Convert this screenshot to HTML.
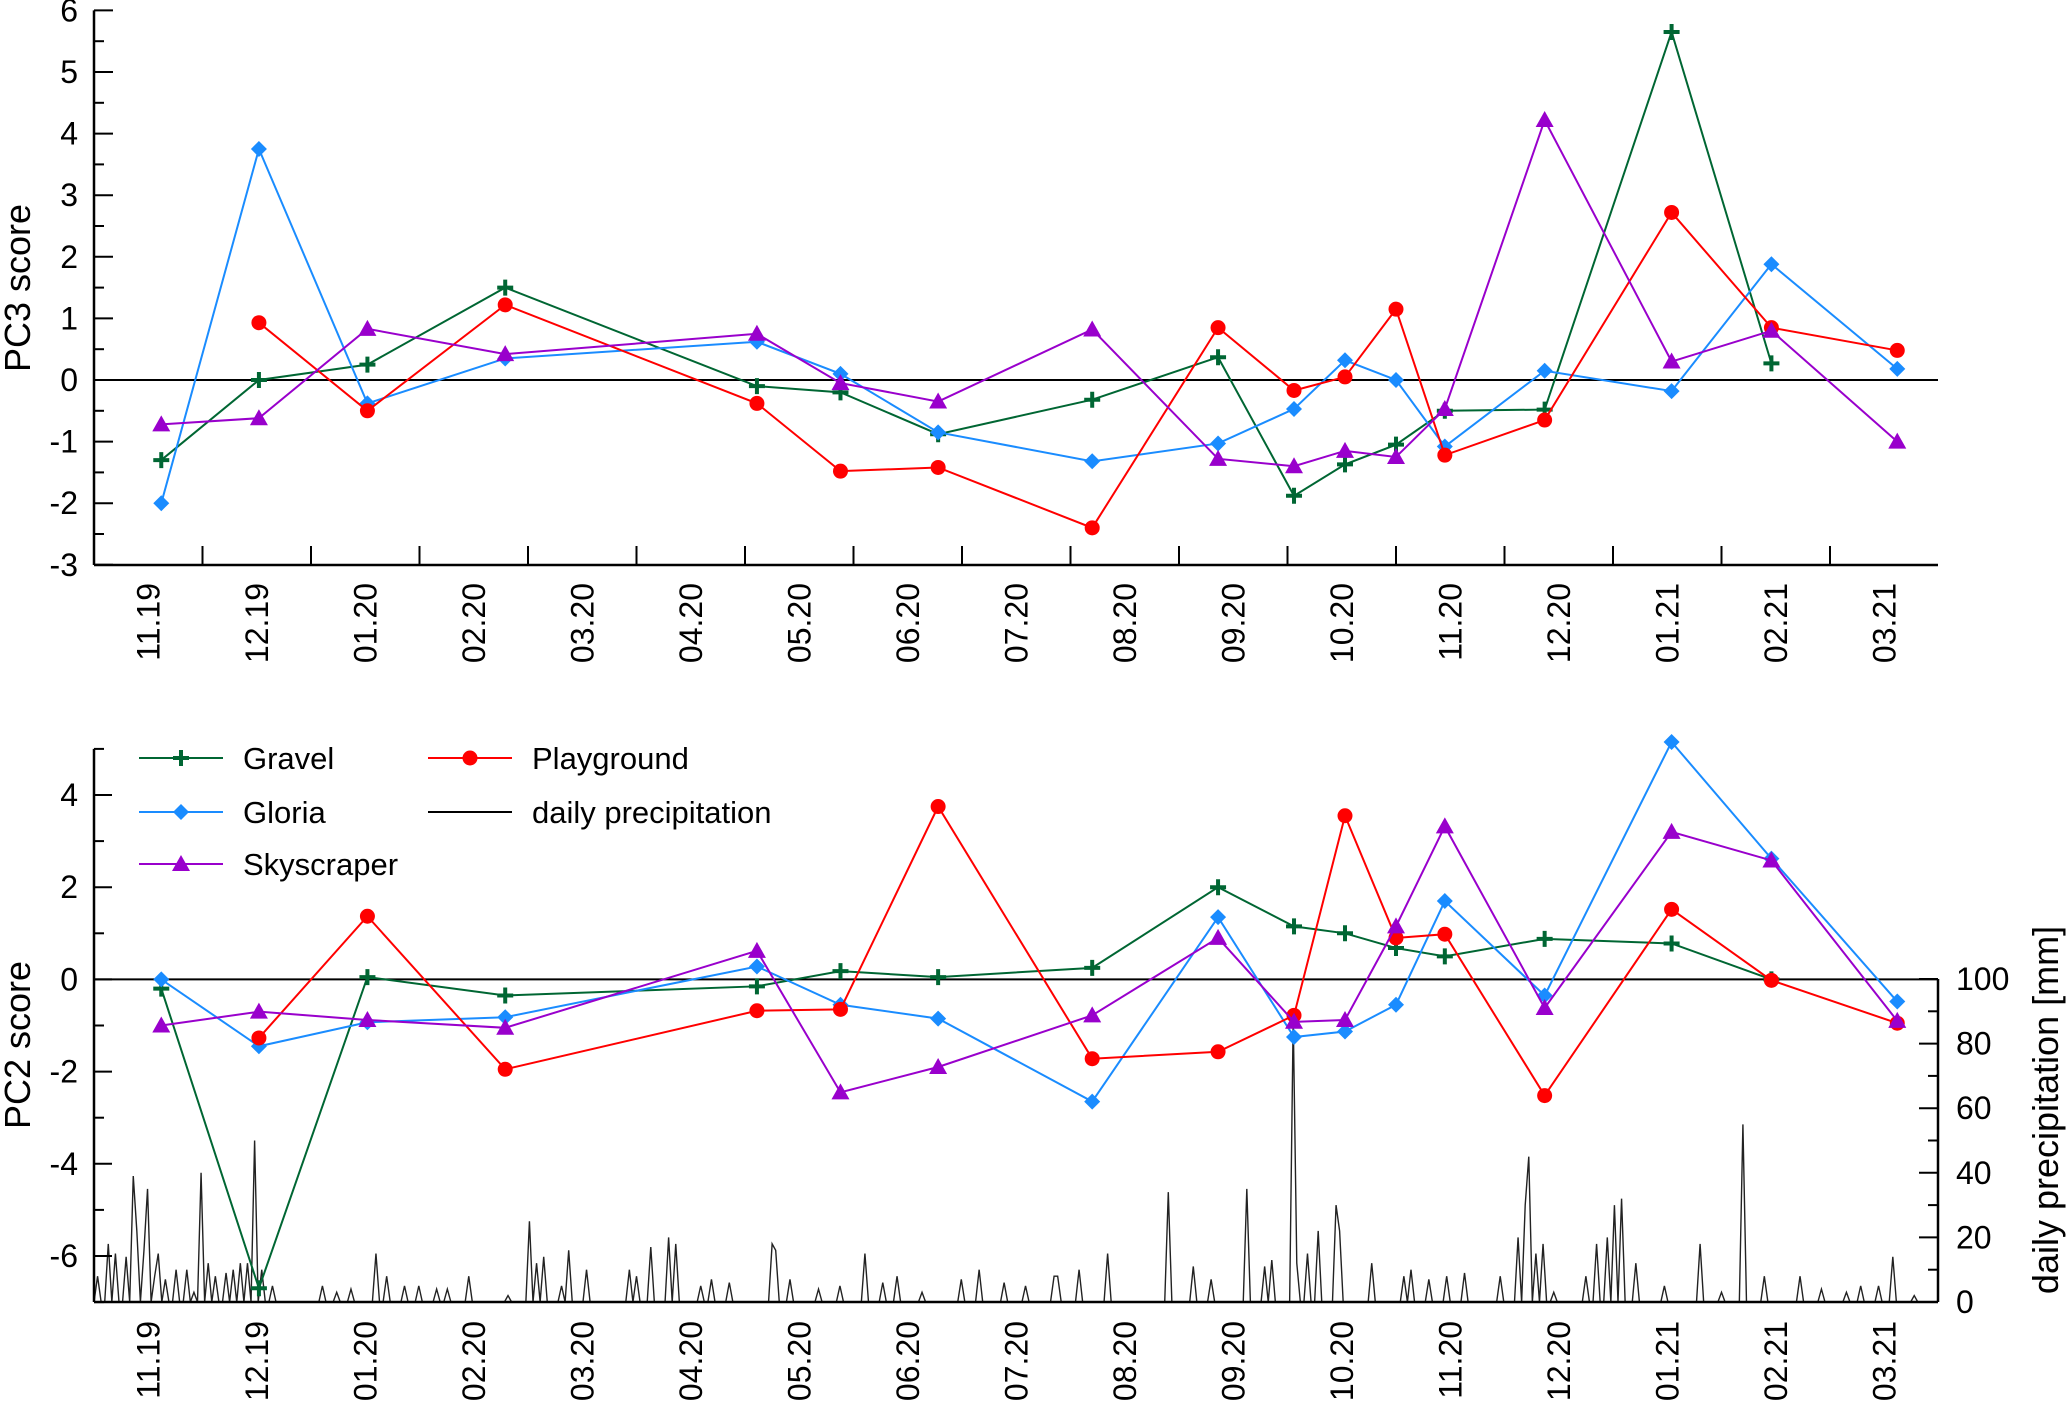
<!DOCTYPE html>
<html><head><meta charset="utf-8"><style>
html,body{margin:0;padding:0;background:#fff}
svg{display:block}
text{font-family:"Liberation Sans",sans-serif;fill:#000}
</style></head><body>
<svg id="chart" width="2067" height="1401" viewBox="0 0 2067 1401" xmlns="http://www.w3.org/2000/svg"></svg>
<script>
// ---- data ----
const monthLabels = ["11.19","12.19","01.20","02.20","03.20","04.20","05.20","06.20","07.20","08.20","09.20","10.20","11.20","12.20","01.21","02.21","03.21"];
// sampling times in months since 1 Nov 2019
const sampleT = [0.62,1.52,2.52,3.79,6.11,6.88,7.78,9.2,10.36,11.06,11.53,12.0,12.45,13.37,14.54,15.46,16.62];
const pc3Gravel     = [-1.3,0,0.25,1.5,-0.1,-0.2,-0.88,-0.32,0.37,-1.88,-1.37,-1.05,-0.5,-0.48,5.65,0.27,null];
const pc3Gloria     = [-2,3.75,-0.38,0.35,0.62,0.1,-0.85,-1.32,-1.03,-0.47,0.32,0.0,-1.08,0.15,-0.18,1.88,0.18];
const pc3Playground = [null,0.93,-0.5,1.22,-0.38,-1.48,-1.42,-2.4,0.85,-0.17,0.05,1.15,-1.22,-0.65,2.72,0.85,0.48];
const pc3Skyscraper = [-0.72,-0.62,0.83,0.42,0.75,-0.05,-0.35,0.82,-1.28,-1.4,-1.15,-1.25,-0.47,4.22,0.3,0.8,-1.0];
const pc2Gravel     = [-0.2,-6.7,0.05,-0.35,-0.15,0.18,0.05,0.25,2.0,1.15,1.0,0.68,0.5,0.88,0.78,0.0,null];
const pc2Gloria     = [0,-1.45,-0.93,-0.82,0.28,-0.55,-0.85,-2.65,1.35,-1.25,-1.13,-0.55,1.7,-0.35,5.15,2.62,-0.48];
const pc2Playground = [null,-1.27,1.37,-1.95,-0.68,-0.65,3.75,-1.72,-1.57,-0.78,3.55,0.9,0.98,-2.52,1.52,-0.02,-0.95];
const pc2Skyscraper = [-1.0,-0.7,-0.88,-1.05,0.62,-2.45,-1.9,-0.78,0.9,-0.92,-0.88,1.15,3.32,-0.62,3.2,2.58,-0.9];
// daily precipitation: day index since 1 Nov 2019 and mm (days not listed = 0)
const precipDay = [1,4,6,9,11,12,14,15,17,18,20,23,26,28,30,32,34,37,39,41,43,45,47,50,64,68,72,79,82,87,91,96,99,105,116,122,124,126,131,133,138,150,152,156,161,163,170,173,178,190,191,195,203,209,216,221,225,232,243,248,255,261,269,270,276,284,301,308,313,323,328,330,336,337,340,343,348,349,358,367,369,374,379,384,394,399,401,402,404,406,409,418,421,424,426,428,432,440,450,456,462,468,478,484,491,495,500,504,510];
const precipMm  = [8,18,15,14,39,22,16,35,8,15,7,10,10,3,40,12,8,9,10,12,12,50,10,5,5,3,4,15,8,5,5,4,4,8,2,25,12,14,5,16,10,10,8,17,20,18,5,7,6,18,16,7,4,5,15,6,8,3,7,10,6,5,8,8,10,15,34,11,7,35,11,13,88,12,15,22,30,22,12,8,10,7,8,9,8,20,30,45,15,18,3,8,18,20,30,32,12,5,18,3,55,8,8,4,3,5,5,14,2];

const NS="http://www.w3.org/2000/svg";
const svg=document.getElementById('chart');
function el(tag,attrs,parent){const e=document.createElementNS(NS,tag);for(const k in attrs)e.setAttribute(k,attrs[k]);(parent||svg).appendChild(e);return e;}

const X0=94, MW=108.5, XR=1938;
const xT=t=>X0+t*MW;
const yTop=v=>380-v*61.6;
const yBot=v=>979.4-v*46.1;
const yPr=mm=>1302-mm*3.23;
const FS=32;

const colors={Gravel:"#006633",Gloria:"#1a8cff",Playground:"#ff0000",Skyscraper:"#9900cc"};

function marker(g,type,x,y,c){
  let m;
  if(type==="Gravel"){m=el('path',{d:`M${x-8},${y}H${x+8}M${x},${y-8}V${y+8}`,stroke:c,'stroke-width':4,fill:'none'},g);}
  else if(type==="Gloria"){m=el('path',{d:`M${x},${y-8}L${x+8},${y}L${x},${y+8}L${x-8},${y}Z`,fill:c},g);}
  else if(type==="Playground"){m=el('circle',{cx:x,cy:y,r:7.5,fill:c},g);}
  else {m=el('path',{d:`M${x},${y-9}L${x+9},${y+7}L${x-9},${y+7}Z`,fill:c},g);}
  
  
}
function series(name,vals,yf,key){
  const g=el('g',{});
  
  
  const pts=[];
  vals.forEach((v,i)=>{if(v!==null)pts.push([xT(sampleT[i]),yf(v)]);});
  const line=el('polyline',{points:pts.map(p=>p.join(',')).join(' '),fill:'none',stroke:colors[name],'stroke-width':2},g);
  
  
  pts.forEach(p=>marker(g,name,p[0],p[1],colors[name]));
}

// ---------- TOP PANEL ----------
const topG=el('g',{});


el('line',{x1:X0,y1:yTop(6),x2:X0,y2:565,stroke:'#000','stroke-width':2.5},topG);
el('line',{x1:X0,y1:565,x2:XR,y2:565,stroke:'#000','stroke-width':2.5},topG);
el('line',{x1:X0,y1:yTop(0),x2:XR,y2:yTop(0),stroke:'#000','stroke-width':2},topG);
for(let v=-3;v<=6;v++){
  el('line',{x1:X0,y1:yTop(v),x2:X0+19,y2:yTop(v),stroke:'#000','stroke-width':2},topG);
  if(v<6) el('line',{x1:X0,y1:yTop(v+0.5),x2:X0+10,y2:yTop(v+0.5),stroke:'#000','stroke-width':2},topG);
  const t=el('text',{x:X0-16,y:yTop(v)+11,'font-size':FS,'text-anchor':'end'},topG);t.textContent=v;
  
  
}
for(let m=1;m<monthLabels.length;m++) el('line',{x1:xT(m),y1:565,x2:xT(m),y2:546,stroke:'#000','stroke-width':2},topG);
monthLabels.forEach((lab,i)=>{
  const x=xT(i+0.5)+11, y=583;
  const t=el('text',{x:x,y:y,'font-size':FS,'text-anchor':'end',transform:`rotate(-90 ${x} ${y})`},topG);t.textContent=lab;
  
  
});
const yt1=el('text',{x:0,y:0,'font-size':36,'text-anchor':'middle',transform:'translate(30,288) rotate(-90)'},topG);yt1.textContent='PC3 score';



series('Gravel',pc3Gravel,yTop,'pc3');
series('Gloria',pc3Gloria,yTop,'pc3');
series('Playground',pc3Playground,yTop,'pc3');
series('Skyscraper',pc3Skyscraper,yTop,'pc3');

// ---------- BOTTOM PANEL ----------
const botG=el('g',{});


const daily=[];for(let d=0;d<=516;d++)daily.push(0);
precipDay.forEach((d,i)=>{daily[d]=precipMm[i];});
const pp=daily.map((mm,d)=>xT(d/30.4)+','+yPr(mm)).join(' ');
const pl=el('polyline',{points:pp,fill:'none',stroke:'#222','stroke-width':1.4},botG);



el('line',{x1:X0,y1:yBot(5),x2:X0,y2:1302,stroke:'#000','stroke-width':2.5},botG);
el('line',{x1:X0,y1:1302,x2:XR,y2:1302,stroke:'#000','stroke-width':2.5},botG);
el('line',{x1:XR,y1:979,x2:XR,y2:1302,stroke:'#000','stroke-width':2.5},botG);
el('line',{x1:X0,y1:yBot(0),x2:XR,y2:yBot(0),stroke:'#000','stroke-width':2},botG);
for(let v=-7;v<=5;v++){
  el('line',{x1:X0,y1:yBot(v),x2:X0+(v%2===0?18:10),y2:yBot(v),stroke:'#000','stroke-width':2},botG);
  if(v%2===0&&v>-7&&v<5){const t=el('text',{x:X0-16,y:yBot(v)+11,'font-size':FS,'text-anchor':'end'},botG);t.textContent=v;
  
  }
}
for(let mm=0;mm<=100;mm+=10){
  el('line',{x1:XR,y1:yPr(mm),x2:XR-(mm%20===0?19:10),y2:yPr(mm),stroke:'#000','stroke-width':2},botG);
  if(mm%20===0){const t=el('text',{x:1956,y:yPr(mm)+11,'font-size':FS},botG);t.textContent=mm;
  
  }
}
monthLabels.forEach((lab,i)=>{
  const x=xT(i+0.5)+11, y=1321;
  const t=el('text',{x:x,y:y,'font-size':FS,'text-anchor':'end',transform:`rotate(-90 ${x} ${y})`},botG);t.textContent=lab;
  
  
});
const yt2=el('text',{x:0,y:0,'font-size':36,'text-anchor':'middle',transform:'translate(30,1045) rotate(-90)'},botG);yt2.textContent='PC2 score';


const yt3=el('text',{x:0,y:0,'font-size':36,'text-anchor':'middle',transform:'translate(2058,1110) rotate(-90)'},botG);yt3.textContent='daily precipitation [mm]';



series('Gravel',pc2Gravel,yBot,'pc2');
series('Gloria',pc2Gloria,yBot,'pc2');
series('Playground',pc2Playground,yBot,'pc2');
series('Skyscraper',pc2Skyscraper,yBot,'pc2');

// ---------- LEGEND ----------
const leg=el('g',{});


[["Gravel",139,758],["Gloria",139,812],["Skyscraper",139,864],["Playground",428,758],["daily precipitation",428,812]].forEach(([n,x,y])=>{
  const g=el('g',{},leg);
  
  
  const c=colors[n]||'#000';
  el('line',{x1:x,y1:y,x2:x+84,y2:y,stroke:c,'stroke-width':2},g);
  if(colors[n]) marker(g,n,x+42,y,c);
  const t=el('text',{x:x+104,y:y+11,'font-size':31},g);t.textContent=n;
});
</script>
</body></html>
